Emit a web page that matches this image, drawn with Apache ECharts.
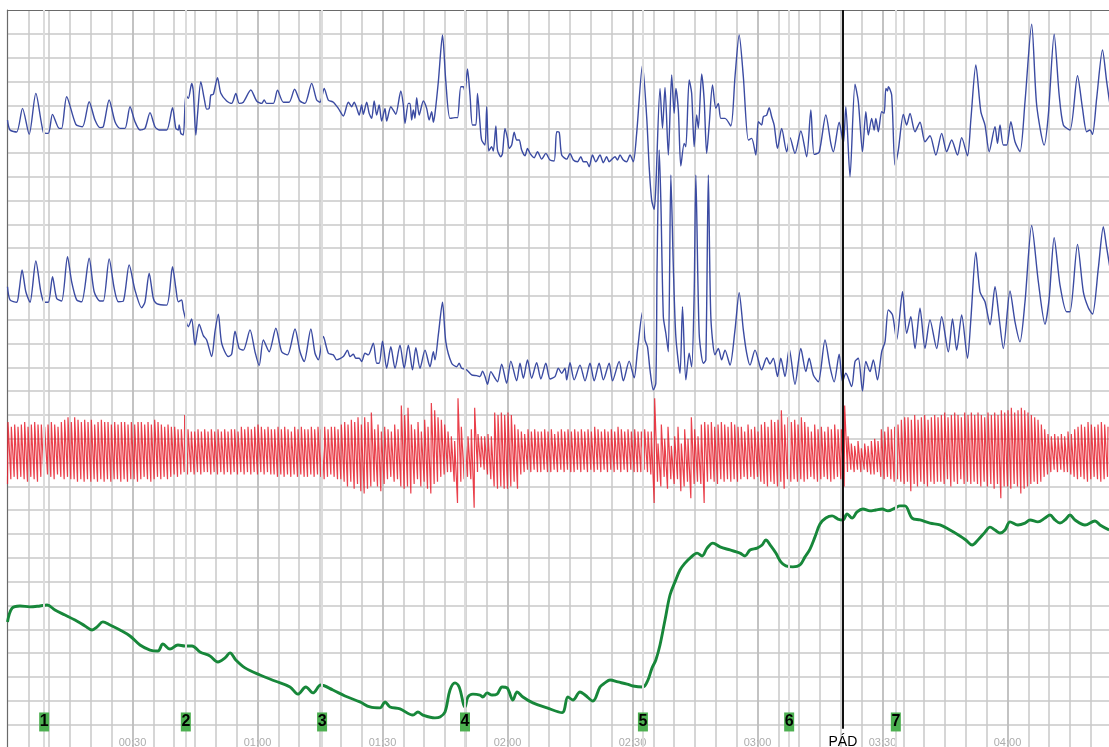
<!DOCTYPE html>
<html>
<head>
<meta charset="utf-8">
<script src="https://cdn.jsdelivr.net/npm/echarts@6/dist/echarts.min.js"></script>
<style>
  html, body { margin: 0; padding: 0; background: #fff; overflow: hidden; }
  #chart { width: 1109px; height: 747px; }
</style>
</head>
<body>
<div id="chart"></div>
<script>
// Polygraph recording: two pneumo channels, cardio, EDA. Time in seconds, amplitude in chart units (10 per division).

// Upper pneumo channel [time s, value]
const pneumoUpper = [[0.0,263.8],[0.6,259.6],[2.2,258.8],[3.6,268.7],[5.2,257.8],[6.8,275.0],[8.6,258.7],[9.8,258.2],[10.8,266.2],[12.4,260.3],[13.0,260.3],[14.2,273.6],[16.4,262.0],[18.0,261.0],[19.6,271.5],[21.0,263.8],[22.2,260.6],[23.0,261.0],[24.4,272.2],[25.8,263.1],[27.0,260.3],[28.2,260.3],[29.4,269.4],[30.6,263.1],[31.8,259.6],[33.0,260.3],[34.2,266.9],[35.4,261.0],[36.4,259.6],[38.2,259.6],[39.6,269.0],[40.4,260.3],[41.0,259.6],[41.2,261.7],[41.6,258.2],[42.2,257.5],[42.8,274.3],[43.4,272.9],[44.2,279.2],[44.6,275.7],[45.2,257.5],[45.6,265.9],[46.4,279.9],[47.2,272.9],[47.8,268.4],[48.4,268.7],[48.8,274.3],[49.4,274.6],[50.4,281.6],[51.2,275.0],[52.6,271.8],[53.8,270.8],[54.8,275.0],[55.6,270.8],[56.6,271.3],[58.4,276.4],[59.8,271.8],[61.0,270.8],[61.6,272.2],[62.2,270.8],[63.8,270.8],[64.8,276.3],[66.2,271.3],[67.6,271.3],[68.9,276.7],[70.2,271.8],[71.4,270.8],[73.0,279.2],[74.2,272.2],[75.0,271.3],[76.0,277.1],[77.0,272.2],[78.2,271.3],[79.4,268.7],[80.6,265.5],[81.8,271.3],[82.6,269.4],[83.2,271.3],[83.8,269.0],[84.4,265.9],[85.0,270.1],[85.4,266.2],[86.2,271.3],[86.8,266.6],[87.4,264.5],[88.0,271.8],[88.6,265.9],[89.2,270.1],[89.8,263.4],[90.6,268.7],[91.0,263.4],[92.0,269.4],[92.8,267.3],[93.2,266.2],[94.4,276.0],[95.0,270.1],[95.4,262.4],[96.2,270.8],[96.6,270.8],[97.0,263.8],[97.4,268.0],[97.8,264.5],[98.2,273.2],[98.8,265.9],[99.8,271.8],[100.6,268.7],[101.2,263.8],[101.8,267.3],[102.2,262.9],[102.6,266.6],[103.4,279.9],[104.4,299.5],[105.2,279.9],[106.2,264.5],[107.4,264.8],[108.0,264.8],[108.8,277.8],[109.4,277.8],[109.8,275.7],[110.4,285.2],[111.0,274.3],[111.6,261.7],[112.4,261.7],[112.8,275.0],[113.4,262.4],[113.8,255.4],[114.6,253.3],[115.0,269.4],[115.5,250.8],[116.2,252.6],[116.6,250.8],[117.2,261.3],[117.6,251.2],[118.4,248.4],[118.8,249.8],[119.4,260.3],[120.0,256.1],[120.4,251.9],[121.0,253.3],[121.6,258.7],[122.2,255.4],[122.8,255.4],[123.4,251.2],[124.2,248.8],[124.8,251.9],[125.4,249.8],[126.4,248.0],[127.2,250.5],[128.2,247.4],[129.2,249.8],[130.2,247.0],[131.2,246.6],[131.8,258.9],[132.4,258.7],[133.0,249.1],[134.2,247.4],[135.0,249.8],[135.8,247.0],[136.8,246.3],[137.6,248.4],[138.2,246.3],[139.0,246.3],[139.6,244.2],[140.4,249.1],[141.2,246.3],[142.2,249.1],[143.0,245.9],[143.8,248.4],[144.4,246.3],[145.8,248.4],[146.4,247.0],[147.0,249.1],[147.8,247.0],[148.6,246.3],[149.4,249.1],[150.2,246.3],[151.0,258.2],[152.4,286.9],[153.4,265.2],[154.0,244.2],[154.6,230.2],[155.2,226.3],[155.6,235.8],[156.6,277.1],[157.2,260.3],[157.8,277.5],[158.6,249.1],[159.4,282.7],[160.0,266.6],[160.4,277.1],[161.0,268.0],[161.6,244.5],[162.4,254.0],[162.8,252.6],[163.6,280.6],[164.2,275.0],[164.8,252.6],[165.4,265.9],[165.8,260.3],[166.6,283.1],[167.2,272.2],[167.8,249.8],[168.4,261.7],[169.2,278.5],[170.0,268.7],[170.6,270.8],[171.2,264.5],[172.2,264.5],[173.6,261.3],[174.6,282.0],[175.6,299.5],[176.6,282.0],[177.8,255.4],[178.6,256.1],[179.6,249.1],[180.2,263.1],[181.0,261.7],[181.4,265.2],[182.2,265.9],[182.8,269.0],[183.4,265.2],[184.0,261.7],[184.8,251.9],[185.8,260.3],[187.0,250.5],[187.8,256.4],[189.0,249.8],[190.4,259.2],[191.8,248.4],[192.8,268.0],[193.6,249.4],[194.8,250.3],[196.4,265.9],[197.6,254.0],[198.2,250.5],[199.6,262.9],[200.6,254.0],[201.2,269.4],[202.2,240.0],[203.4,278.8],[204.2,271.5],[205.2,250.5],[206.0,267.3],[206.6,257.5],[207.4,264.5],[208.0,259.6],[208.4,264.5],[209.0,258.9],[209.8,267.3],[210.4,266.6],[210.8,277.1],[211.2,276.0],[211.4,277.8],[212.2,274.3],[213.0,244.9],[213.8,251.2],[215.0,266.2],[215.8,261.7],[216.6,266.6],[217.8,258.9],[219.0,262.9],[220.2,254.7],[221.4,257.2],[222.8,249.1],[224.2,258.2],[225.4,250.5],[226.6,255.4],[228.0,249.1],[229.0,256.4],[230.4,248.8],[231.2,263.8],[232.4,286.9],[233.6,267.3],[234.6,261.7],[235.6,250.5],[237.0,261.0],[237.6,254.0],[238.2,261.7],[239.0,253.3],[239.8,253.3],[240.8,263.1],[241.8,254.7],[243.0,250.5],[244.2,271.5],[245.8,304.0],[247.0,270.1],[248.8,253.3],[249.8,265.9],[251.2,299.8],[252.4,274.3],[253.4,261.7],[255.0,259.6],[256.8,282.4],[258.0,268.7],[259.0,258.9],[259.8,259.6],[260.4,257.8],[261.4,272.9],[262.8,293.2],[263.8,279.9],[264.6,270.1]];

// Lower pneumo channel [time s, value]
const pneumoLower = [[0.0,193.8],[0.6,188.3],[2.2,187.3],[2.8,192.4],[3.5,200.9],[4.4,191.7],[5.4,187.3],[6.8,204.6],[8.0,191.7],[8.8,187.3],[9.8,187.3],[10.8,198.0],[11.8,188.9],[13.0,187.8],[14.4,206.4],[15.4,195.9],[16.6,188.3],[17.8,187.5],[19.6,205.8],[20.8,191.7],[22.2,187.8],[23.0,187.8],[24.4,205.5],[25.6,193.2],[26.6,187.5],[27.8,187.8],[29.2,203.0],[30.6,192.4],[32.2,185.0],[33.0,187.5],[34.0,199.5],[35.0,188.9],[35.8,186.7],[38.2,186.1],[39.6,202.2],[40.4,193.2],[41.0,187.5],[41.8,188.3],[42.2,184.1],[43.4,177.0],[44.2,180.3],[45.0,169.3],[46.0,178.1],[47.0,173.3],[47.8,171.5],[49.0,164.5],[49.8,175.0],[50.6,182.3],[51.4,170.1],[53.0,164.5],[53.8,165.5],[54.6,175.2],[55.6,167.9],[56.6,167.2],[58.2,175.7],[59.4,166.5],[60.4,160.7],[61.4,171.5],[62.8,166.5],[64.4,176.4],[65.8,166.5],[67.2,165.2],[69.0,176.1],[70.2,166.5],[71.2,162.4],[72.8,176.1],[73.8,165.9],[74.6,163.1],[75.8,172.9],[77.0,165.9],[78.2,165.2],[79.0,163.1],[80.6,164.5],[81.6,167.2],[82.2,164.5],[83.0,165.5],[83.6,163.8],[84.4,163.8],[85.0,162.4],[85.8,165.9],[86.6,165.2],[87.8,170.1],[88.6,161.7],[89.2,161.7],[90.0,171.0],[91.0,159.6],[92.0,168.6],[93.0,159.6],[94.2,169.3],[95.2,159.6],[96.2,169.3],[97.2,158.9],[98.0,168.2],[99.0,159.6],[100.2,167.2],[101.4,160.2],[102.2,166.5],[102.6,163.1],[103.4,173.6],[104.4,187.3],[105.2,170.7],[106.6,161.7],[107.8,160.2],[108.4,161.7],[109.0,159.6],[110.2,158.9],[111.4,156.8],[112.6,156.5],[113.4,156.1],[114.0,158.4],[114.6,156.1],[115.2,152.9],[116.0,158.2],[117.0,155.4],[117.6,153.9],[118.6,161.3],[119.8,153.3],[120.8,162.6],[122.2,154.3],[123.0,161.7],[123.8,155.4],[124.8,163.1],[125.8,155.4],[127.0,161.9],[128.0,155.1],[129.2,161.7],[130.2,155.1],[131.4,156.1],[132.2,159.6],[133.0,157.5],[133.8,159.6],[134.2,154.7],[135.0,161.9],[136.0,154.7],[137.4,160.9],[138.6,154.3],[139.8,161.7],[140.8,154.3],[142.0,161.7],[143.0,154.7],[144.4,161.7],[145.2,154.3],[146.8,162.4],[147.8,154.3],[149.2,162.6],[150.4,155.6],[151.2,167.2],[152.4,183.3],[153.0,171.5],[153.6,168.6],[154.2,158.9],[155.0,150.5],[155.6,153.3],[155.9,202.2],[156.4,251.2],[156.8,230.2],[157.4,181.2],[158.0,174.3],[158.6,166.5],[159.2,240.7],[159.8,202.2],[160.4,172.9],[161.4,157.5],[162.0,185.4],[162.8,154.7],[163.6,165.9],[164.2,160.2],[164.8,191.1],[165.2,240.7],[166.0,174.3],[167.0,161.7],[167.6,163.1],[168.2,240.7],[168.8,181.2],[169.8,165.2],[170.6,167.9],[171.4,163.1],[172.2,167.2],[173.4,160.9],[174.6,175.7],[175.6,191.3],[176.6,175.7],[177.4,165.9],[178.2,160.9],[179.4,167.2],[181.0,158.9],[182.2,164.0],[183.0,161.4],[183.8,163.8],[184.8,156.1],[185.6,163.8],[186.6,156.1],[187.6,167.9],[189.0,152.9],[190.4,167.9],[191.6,158.2],[192.4,163.8],[193.4,156.8],[194.6,153.9],[196.2,171.5],[197.4,160.2],[198.4,153.9],[199.6,165.5],[200.4,153.9],[201.2,157.5],[202.6,151.9],[203.4,162.4],[204.2,163.8],[205.2,150.0],[206.0,162.4],[207.0,158.2],[207.8,163.1],[208.8,154.7],[209.8,166.5],[210.6,170.7],[211.4,184.1],[212.4,182.0],[213.4,171.5],[214.8,191.7],[215.8,174.3],[216.8,181.2],[217.8,167.9],[219.0,184.8],[220.2,167.9],[221.4,179.9],[223.0,167.9],[224.2,181.2],[225.8,166.5],[226.8,180.3],[227.8,167.2],[229.0,182.0],[230.4,163.8],[231.2,179.9],[232.4,208.3],[233.4,191.7],[234.6,187.5],[235.8,177.8],[237.0,193.8],[238.0,180.6],[239.0,167.9],[240.6,192.0],[241.8,179.1],[243.0,170.7],[244.2,187.5],[245.8,219.5],[247.4,195.9],[249.0,178.1],[250.0,188.9],[251.2,214.4],[252.6,194.5],[254.2,183.3],[255.0,183.3],[256.8,211.6],[258.2,191.7],[259.4,185.0],[260.4,182.3],[261.8,201.6],[263.0,219.0],[263.8,210.2],[264.6,201.6]];

// Cardio channel: per-beat peak and trough values
const cardioBeatSec = 0.8;
const cardioPeak = [
137,135,136,135,136,137,135,136,137,136, 136,135,136,137,136,135,137,138,139,137,
139,138,137,138,137,138,136,137,138,137, 137,136,137,136,137,137,136,137,136,137,
137,136,137,136,138,137,136,135,136,135, 135,134,134,140,134,133,133,134,133,134,
133,134,133,134,133,134,133,134,134,133, 135,134,135,134,135,136,135,134,135,134,
134,135,134,135,134,133,135,134,135,134, 134,135,134,135,134,135,134,135,135,134,
136,137,136,138,137,139,136,139,137,141, 134,136,133,135,134,133,136,134,144,140,
143,136,134,137,133,138,135,145,142,139, 138,136,133,131,129,147,135,132,131,134,
143,132,131,131,132,131,141,140,141,140, 141,140,136,134,133,132,134,133,134,133,
133,134,133,134,132,133,134,133,134,133, 134,133,134,133,134,133,135,134,133,134,
133,134,133,135,134,133,134,133,134,133, 133,134,133,133,147,128,136,130,135,127,
131,135,128,134,130,139,134,131,136,137, 136,137,135,136,137,136,135,137,136,135,
135,133,136,134,135,133,136,137,135,138, 137,138,142,136,139,137,138,136,139,137,
135,133,136,134,135,133,135,134,136,134, 134,144,131,128,127,129,126,128,127,129,
130,129,134,133,135,134,135,136,138,139, 139,138,140,138,139,140,138,139,140,139,
140,141,139,140,141,140,139,141,140,141, 140,141,140,139,141,140,141,140,142,141,
142,143,141,142,143,142,141,140,139,138, 136,134,132,131,132,131,132,131,133,132,
134,135,136,135,137,136,135,136,137,136,135];
const cardioTrough = [
111,113,114,113,114,113,112,114,113,112, 114,113,115,114,113,115,114,113,114,113,
113,112,113,112,113,112,113,112,113,112, 113,112,113,113,112,113,112,113,113,112,
113,114,113,112,113,114,113,114,113,114, 115,114,115,116,115,116,115,116,115,116,
116,115,116,115,116,115,116,115,116,115, 116,115,116,115,116,115,116,115,116,115,
115,114,115,114,115,114,115,114,115,114, 114,115,114,115,114,113,114,115,114,113,
113,112,110,112,109,111,108,107,109,110, 112,110,108,111,113,114,112,113,110,109,
110,107,111,113,110,112,109,107,111,112, 114,115,116,116,112,103,112,113,114,113,
101,116,118,117,115,113,110,109,110,109, 109,110,112,109,115,116,117,116,117,116,
116,117,116,116,117,116,117,116,117,116, 116,117,116,117,116,117,116,117,116,117,
116,117,116,117,116,117,116,117,116,116, 116,117,116,115,103,112,110,114,109,113,
111,113,108,110,112,105,111,112,111,103, 112,113,112,111,113,112,113,112,113,112,
113,114,113,114,113,114,112,111,110,112, 111,110,112,109,113,112,113,112,113,112,
113,114,113,112,113,114,113,112,113,114, 113,110,116,117,116,117,116,117,116,115,
115,116,114,113,114,113,112,113,112,111, 112,108,111,110,112,111,110,112,111,112,
112,111,113,110,112,111,113,111,112,111, 112,111,110,112,110,111,109,111,105,110,
110,109,111,110,107,109,110,111,112,111, 112,114,115,116,117,116,117,116,116,115,
114,113,114,113,112,113,114,113,112,113,114];

// EDA channel [time s, value]
const eda = [[0.0,53.1],[1.1,58.9],[3.0,59.8],[5.4,59.4],[7.8,59.8],[9.5,60.2],[11.4,58.1],[13.8,56.0],[16.2,53.9],[18.6,51.4],[20.3,49.7],[21.5,51.0],[22.9,53.1],[24.6,51.8],[27.0,49.7],[29.4,47.2],[31.8,43.4],[34.2,41.3],[36.1,40.9],[37.3,43.8],[39.0,41.7],[40.9,43.4],[42.6,43.0],[44.3,43.0],[46.2,40.5],[48.6,38.8],[50.5,36.3],[52.2,38.0],[53.4,40.1],[54.8,37.1],[57.0,33.8],[60.6,30.8],[64.2,28.3],[67.8,25.8],[69.7,22.8],[71.6,25.8],[73.3,23.3],[75.2,26.6],[78.1,24.5],[81.0,22.0],[84.6,19.5],[87.0,17.4],[89.4,17.0],[90.6,19.5],[91.8,17.4],[94.2,16.6],[97.3,14.0],[98.5,15.3],[99.7,14.0],[102.6,12.8],[103.8,13.2],[105.0,15.3],[106.2,24.5],[107.4,27.5],[108.4,25.8],[109.8,17.4],[110.5,21.6],[111.7,22.8],[113.4,22.4],[114.1,21.6],[115.1,23.3],[116.3,22.4],[117.5,22.8],[118.7,25.8],[119.9,25.4],[121.3,20.3],[122.3,23.7],[123.7,21.6],[126.1,19.1],[129.5,17.0],[133.1,15.0],[134.5,21.6],[135.7,20.3],[137.4,23.7],[138.6,22.4],[140.5,19.9],[142.2,25.8],[143.4,27.5],[144.6,28.7],[146.5,27.9],[148.7,27.0],[150.1,26.2],[152.5,25.8],[153.7,28.7],[154.7,33.8],[155.6,37.1],[156.6,43.4],[157.8,53.9],[159.0,64.4],[160.2,69.9],[161.4,74.9],[162.6,77.8],[163.8,79.9],[165.5,82.0],[166.7,80.8],[167.9,84.1],[169.3,86.2],[171.0,84.6],[173.4,83.3],[175.8,82.0],[177.0,80.8],[178.2,83.3],[179.9,84.1],[181.1,85.4],[182.0,87.5],[183.2,85.0],[184.4,82.0],[185.6,78.3],[186.8,76.6],[188.5,76.2],[190.2,77.0],[191.4,80.4],[192.6,83.7],[193.8,88.8],[195.0,94.2],[196.4,96.7],[197.9,97.6],[199.3,96.3],[200.5,95.9],[201.5,98.4],[202.7,96.7],[203.9,99.3],[205.3,100.5],[207.0,99.7],[208.4,100.1],[209.9,100.5],[211.3,99.7],[213.0,100.9],[214.2,101.8],[215.4,101.8],[217.1,96.7],[219.0,95.9],[221.4,94.6],[223.8,93.8],[226.2,91.7],[228.6,89.2],[230.0,87.5],[231.5,85.4],[232.9,87.5],[234.6,90.8],[235.8,92.9],[237.0,91.7],[238.2,90.4],[239.4,91.7],[240.6,95.1],[242.5,93.8],[244.2,94.6],[245.4,95.9],[247.3,95.1],[249.0,96.7],[250.2,98.0],[251.4,95.9],[252.6,94.6],[253.8,95.9],[255.0,98.0],[256.2,95.9],[258.6,93.8],[261.0,95.5],[262.2,93.8],[264.4,91.7]];

// Question marks and the event mark
const questionTimes = [8.8, 42.8, 75.5, 109.8, 152.5, 187.6, 213.2];
const questionLabels = ['1', '2', '3', '4', '5', '6', '7'];
const eventTime = 200.5;
const eventLabel = 'PÁD';

// Layout
const X_MAX = 268.8;     // visible span plus a little beyond the right edge
const Y_MAX = 310;       // 31 divisions of 10 units
const MARK_LEVEL = 11.1; // height of the question boxes
const EVENT_LINE_END = 8.2;
const FONT = 'Liberation Sans, Arial, sans-serif';

const RISE_SEC = 0.12;
const cardio = [];
cardioPeak.forEach((p, i) => {
  const t = i * cardioBeatSec;
  cardio.push([t, cardioTrough[i]]);
  cardio.push([t + RISE_SEC, p]);
});

function mmss(v) {
  const s = Math.round(v);
  const m = Math.floor(s / 60);
  const r = s % 60;
  return String(m).padStart(2, '0') + ':' + String(r).padStart(2, '0');
}

const chart = echarts.init(document.getElementById('chart'), null, { renderer: 'canvas' });

const option = {
  animation: false,
  backgroundColor: '#ffffff',
  grid: {
    left: 7.5, top: 10, width: 1120, height: 738.4, show: false,
    containLabel: false, outerBoundsMode: 'none'
  },
  xAxis: [
    {
      type: 'value', position: 'top', min: 0, max: X_MAX, interval: 5,
      axisLine: { show: true, onZero: false, lineStyle: { color: '#6a6a6a', width: 1.2 } },
      axisTick: { show: false }, axisLabel: { show: false },
      splitLine: { show: true, showMinLine: false, lineStyle: { color: '#c9c9c9', width: 1.5 } }
    },
    {
      type: 'value', position: 'bottom', min: 0, max: X_MAX, interval: 30,
      axisLine: { show: false }, axisTick: { show: false },
      axisLabel: {
        inside: true, margin: 0, color: '#acacac', fontSize: 11, fontFamily: FONT,
        showMinLabel: false, showMaxLabel: false,
        formatter: v => (v === 0 || v % 30 !== 0 ? '' : mmss(v))
      },
      splitLine: { show: true, showMinLine: false, showMaxLine: false, lineStyle: { color: '#bdbdbd', width: 1.5 } }
    }
  ],
  yAxis: {
    type: 'value', min: 0, max: Y_MAX, interval: 10,
    axisLine: { show: true, onZero: false, lineStyle: { color: '#6a6a6a', width: 1.2 } },
    axisTick: { show: false }, axisLabel: { show: false },
    splitLine: { show: true, showMaxLine: false, lineStyle: { color: '#c9c9c9', width: 1.5 } }
  },
  series: [
    {
      name: 'Otázky',
      type: 'line', xAxisIndex: 0, data: eda, z: 1,
      lineStyle: { opacity: 0 }, showSymbol: false, silent: true,
      markLine: {
        silent: true, symbol: 'none', animation: false,
        label: { show: false },
        lineStyle: { color: '#dcdcdc', width: 2, type: 'solid' },
        data: questionTimes.map(t => ({ xAxis: t }))
      }
    },
    {
      name: 'Pneumo 1', type: 'line', xAxisIndex: 0, data: pneumoUpper, z: 3,
      showSymbol: false, smooth: 0.25,
      lineStyle: { color: '#3b4ba2', width: 1.4 }
    },
    {
      name: 'Pneumo 2', type: 'line', xAxisIndex: 0, data: pneumoLower, z: 3,
      showSymbol: false, smooth: 0.25,
      lineStyle: { color: '#3b4ba2', width: 1.4 }
    },
    {
      name: 'Kardio', type: 'line', xAxisIndex: 0, data: cardio, z: 3,
      showSymbol: false,
      lineStyle: { color: 'rgba(230,30,44,0.85)', width: 1.2 }
    },
    {
      name: 'EDA', type: 'line', xAxisIndex: 0, data: eda, z: 4,
      showSymbol: false, smooth: 0.35,
      lineStyle: { color: '#17873a', width: 2.9 },
      markPoint: {
        silent: true, symbol: 'rect', symbolSize: [10, 19], animation: false,
        itemStyle: { color: '#4caf50' },
        label: {
          show: true, position: 'inside', color: '#000', fontSize: 16, fontWeight: 'bold',
          fontFamily: FONT, formatter: p => p.name
        },
        data: questionTimes.map((t, i) => ({ name: questionLabels[i], coord: [t, MARK_LEVEL] }))
      },
      markLine: {
        silent: true, symbol: 'none', animation: false,
        lineStyle: { color: '#111111', width: 2, type: 'solid' },
        label: {
          show: true, position: 'end', distance: 6, color: '#000', fontSize: 14,
          fontFamily: FONT, formatter: eventLabel
        },
        data: [[{ coord: [eventTime, Y_MAX] }, { coord: [eventTime, EVENT_LINE_END] }]]
      }
    }
  ]
};

chart.setOption(option);
</script>
</body>
</html>
